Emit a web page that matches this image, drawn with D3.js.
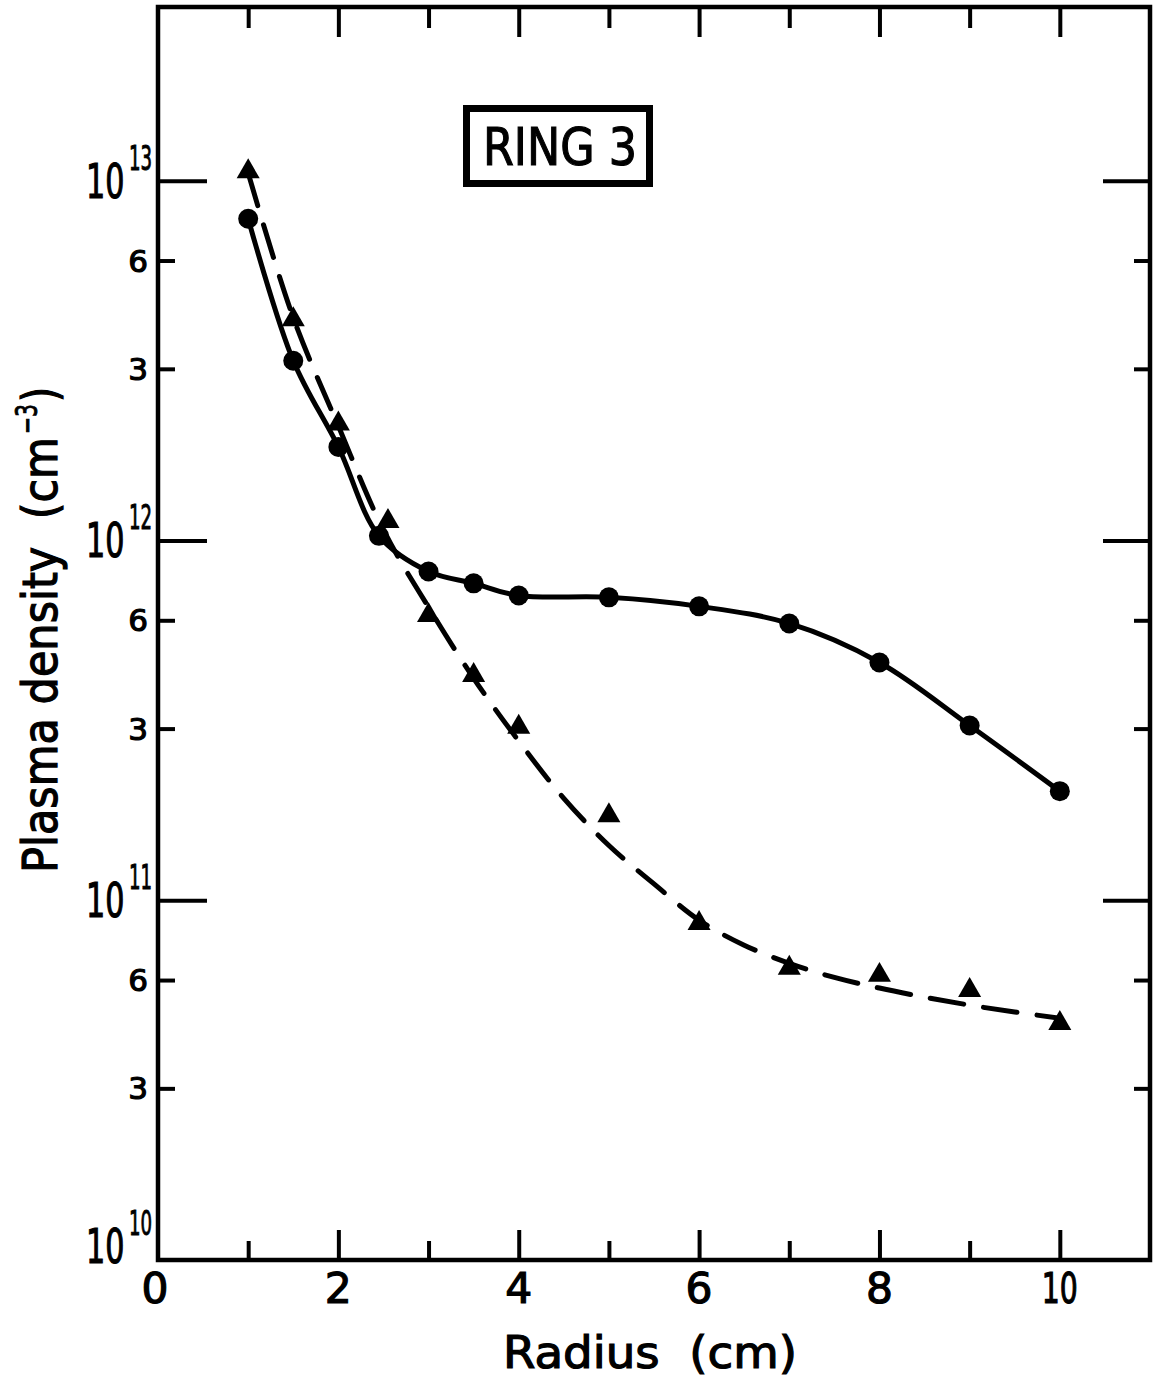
<!DOCTYPE html>
<html>
<head>
<meta charset="utf-8">
<script src="https://cdn.jsdelivr.net/npm/d3@7"></script>
<style>
  body { margin: 0; background: #fff; }
  svg { display: block; }
  text { font-family: "DejaVu Sans", sans-serif; fill: #000; stroke: #000; stroke-width: 1.2px; }
</style>
</head>
<body>
<div id="chart"></div>
<script>
// filled circles, joined by the solid curve
const circleRadius = [1, 1.5, 2, 2.45, 3, 3.5, 4, 5, 6, 7, 8, 9, 10];
const circleDensity = [7.84e12, 3.16e12, 1.82e12, 1.03e12, 8.2e11, 7.6e11, 7.03e11, 6.95e11, 6.56e11, 5.88e11, 4.58e11, 3.06e11, 2.01e11];

// filled triangles
const triangleRadius = [1, 1.5, 2, 2.55, 3, 3.5, 4, 5, 6, 7, 8, 9, 10];
const triangleDensity = [1.06e13, 4.11e12, 2.11e12, 1.13e12, 6.19e11, 4.22e11, 3.03e11, 1.72e11, 8.63e10, 6.48e10, 6.19e10, 5.62e10, 4.55e10];

// dashed hand-drawn fit through the triangles
const fitRadius = [1, 1.5, 2, 2.5, 3, 3.5, 4, 4.5, 5, 5.5, 6, 6.5, 7, 7.5, 8, 8.5, 9, 9.5, 10];
const fitDensity = [1.05e13, 4.16e12, 2.08e12, 1.07e12, 6.52e11, 4.14e11, 2.77e11, 1.92e11, 1.42e11, 1.11e11, 8.8e10, 7.5e10, 6.68e10, 6.1e10, 5.7e10, 5.38e10, 5.11e10, 4.89e10, 4.7e10];

const xMajor = [2, 4, 6, 8, 10];
const xMinor = [1, 3, 5, 7, 9];
const xLabels = [0, 2, 4, 6, 8, 10];
const yDecades = [1e10, 1e11, 1e12, 1e13];
const yDecadeExp = ["10", "11", "12", "13"];
const yMinor = [3e10, 6e10, 3e11, 6e11, 3e12, 6e12];
const yMinorLabels = ["3", "6", "3", "6", "3", "6"];

const W = 1157, H = 1380;
const mLeft = 158, mRight = 1150, mTop = 7, mBottom = 1260;

const svg = d3.select("#chart").append("svg")
  .attr("width", W).attr("height", H);

const x = d3.scaleLinear().domain([0, 11]).range([mLeft, mRight]);
const y = d3.scaleLog().domain([1e10, 3.04e13]).range([mBottom, mTop]);

function ticks(axis, transform) {
  const g = svg.append("g").attr("transform", transform).call(axis);
  g.select(".domain").remove();
  g.selectAll("line").attr("stroke", "#000").attr("stroke-width", 4);
  g.selectAll("text").remove();
}

// x ticks, pointing inward on bottom and top
ticks(d3.axisBottom(x).tickValues(xMajor).tickSize(-30), `translate(0,${mBottom})`);
ticks(d3.axisBottom(x).tickValues(xMinor).tickSize(-19), `translate(0,${mBottom})`);
ticks(d3.axisTop(x).tickValues(xMajor).tickSize(-30), `translate(0,${mTop})`);
ticks(d3.axisTop(x).tickValues(xMinor).tickSize(-21), `translate(0,${mTop})`);

// y ticks, left and right
ticks(d3.axisLeft(y).tickValues(yDecades.slice(1)).tickSize(-49), `translate(${mLeft},0)`);
ticks(d3.axisLeft(y).tickValues(yMinor).tickSize(-17), `translate(${mLeft},0)`);
ticks(d3.axisRight(y).tickValues(yDecades.slice(1)).tickSize(-47), `translate(${mRight},0)`);
ticks(d3.axisRight(y).tickValues(yMinor).tickSize(-16), `translate(${mRight},0)`);

// frame
svg.append("rect")
  .attr("x", mLeft).attr("y", mTop)
  .attr("width", mRight - mLeft).attr("height", mBottom - mTop)
  .attr("fill", "none").attr("stroke", "#000").attr("stroke-width", 4.5);

// x tick labels
svg.selectAll(".xlab").data(xLabels).enter().append("text")
  .attr("class", "xlab")
  .attr("x", d => x(d) - (d === 0 ? 3 : 0))
  .attr("y", 1303)
  .attr("text-anchor", "middle")
  .style("font-size", "42px")
  .attr("textLength", d => d === 10 ? 36 : 27)
  .attr("lengthAdjust", "spacingAndGlyphs")
  .text(d => d);

// y minor labels
svg.selectAll(".ylab").data(yMinor).enter().append("text")
  .attr("class", "ylab")
  .attr("x", 148)
  .attr("y", d => y(d) + 11)
  .attr("text-anchor", "end")
  .style("font-size", "31px")
  .text((d, i) => yMinorLabels[i]);

// y decade labels: 10 with superscript exponent, squeezed horizontally
yDecades.forEach((d, i) => {
  const yy = y(d) - (i === 0 ? 14 : 0);
  svg.append("text")
    .attr("transform", `translate(86,${yy + 17}) scale(0.63,1)`)
    .style("font-size", "48px")
    .text("10");
  svg.append("text")
    .attr("transform", `translate(129,${yy - 11}) scale(0.55,1)`)
    .style("font-size", "33px")
    .style("stroke-width", "1px")
    .text(yDecadeExp[i]);
});

// axis titles
svg.append("text")
  .attr("x", 503).attr("y", 1368)
  .style("font-size", "44px")
  .style("white-space", "pre")
  .attr("textLength", 294).attr("lengthAdjust", "spacingAndGlyphs")
  .text("Radius  (cm)");

const yt = svg.append("g").attr("transform", "translate(57,0) rotate(-90)");
yt.append("text")
  .attr("x", -873).attr("y", 0)
  .style("font-size", "48px")
  .style("white-space", "pre")
  .attr("textLength", 436).attr("lengthAdjust", "spacingAndGlyphs")
  .text("Plasma density  (cm");
yt.append("text")
  .attr("x", -434).attr("y", -20)
  .style("font-size", "30px")
  .style("stroke-width", "0.9px")
  .attr("textLength", 30).attr("lengthAdjust", "spacingAndGlyphs")
  .text("\u22123");
yt.append("text")
  .attr("x", -402).attr("y", 0)
  .style("font-size", "48px")
  .attr("textLength", 15).attr("lengthAdjust", "spacingAndGlyphs")
  .text(")");

// RING 3 box
svg.append("rect")
  .attr("x", 466.5).attr("y", 108.5).attr("width", 183).attr("height", 75)
  .attr("fill", "#fff").attr("stroke", "#000").attr("stroke-width", 7);
svg.append("text")
  .attr("x", 483).attr("y", 165)
  .style("font-size", "52px")
  .style("white-space", "pre")
  .attr("textLength", 154).attr("lengthAdjust", "spacingAndGlyphs")
  .text("RING 3");

// curves
const solid = d3.line().curve(d3.curveCatmullRom.alpha(0.5))
  .x((d, i) => x(circleRadius[i])).y(d => y(d));
svg.append("path")
  .datum(circleDensity)
  .attr("fill", "none").attr("stroke", "#000").attr("stroke-width", 5)
  .attr("d", solid);

const dashed = d3.line().curve(d3.curveCatmullRom.alpha(0.5))
  .x((d, i) => x(fitRadius[i])).y(d => y(d));
svg.append("path")
  .datum(fitDensity)
  .attr("fill", "none").attr("stroke", "#000").attr("stroke-width", 5)
  .attr("stroke-linecap", "round")
  .attr("stroke-dasharray", "34,20")
  .attr("d", dashed);

// markers
svg.selectAll(".dot").data(circleDensity).enter().append("circle")
  .attr("class", "dot")
  .attr("cx", (d, i) => x(circleRadius[i]))
  .attr("cy", d => y(d))
  .attr("r", 10)
  .attr("fill", "#000");

svg.selectAll(".tri").data(triangleDensity).enter().append("path")
  .attr("class", "tri")
  .attr("transform", (d, i) => `translate(${x(triangleRadius[i])},${y(d)})`)
  .attr("d", d3.symbol(d3.symbolTriangle, 230))
  .attr("fill", "#000");
</script>
</body>
</html>
